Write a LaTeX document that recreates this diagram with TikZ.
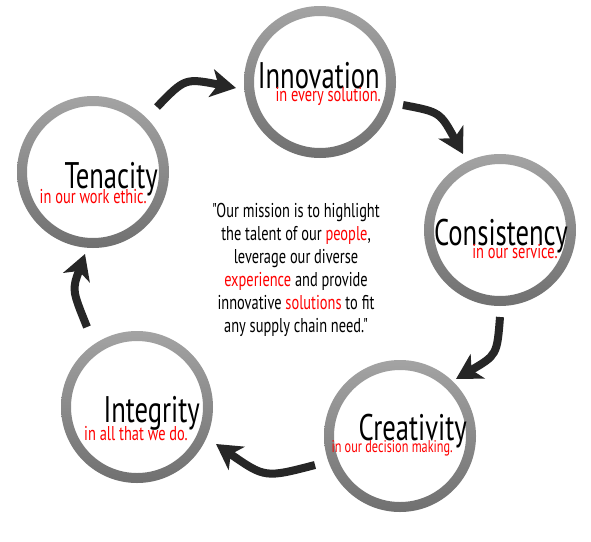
\documentclass[tikz,border=0pt]{standalone}
\usepackage{fontspec}
\setmainfont{PT Sans}
\newfontfamily\narrow[FakeStretch=0.72]{PT Sans}
\usetikzlibrary{arrows.meta}

\begin{document}
\begin{tikzpicture}[x=1pt,y=-1pt,
		ring/.style={circle,minimum size=152pt,inner sep=0pt},
		headline/.style={anchor=base east,inner sep=0pt,font=\narrow\fontsize{37}{37}\selectfont},
		motto/.style={anchor=base east,inner sep=0pt,text=red,font=\narrow\fontsize{20}{20}\selectfont},
		cyclearrow/.style={line width=8pt,color=black!85,-{Stealth[length=25pt,width=28pt,inset=7pt]}}]
			%%%%% START %%%%%
			
			\useasboundingbox[fill=white] (0,0) rectangle (591,541);
			
			\node[ring] (inno) at (320,82) {};
			\node[ring] (cons) at (500,230) {};
			\node[ring] (crea) at (400,436) {};
			\node[ring] (inte) at (137,407) {};
			\node[ring] (tena) at (93,172) {};
			
			\foreach \n in {inno,cons,crea,inte,tena}
				\shade[top color=black!36,bottom color=black!56,even odd rule] (\n) circle (76pt) circle (66pt);
			
			\node[headline] (innot) at (380,88) {Innovation};
			\node[motto] (innom) at (381,101) {in every solution.};
			
			\node[headline] (const) at (568,245) {Consistency};
			\node[motto] (consm) at (558,258) {in our service.};
			
			\node[headline] (creat) at (467,440) {Creativity};
			\node[motto,font=\narrow\fontsize{17}{17}\selectfont] (cream) at (453,452) {in our decision making.};
			
			\node[headline] (intet) at (200,422) {Integrity};
			\node[motto] (intem) at (188,440) {in all that we do.};
			
			\node[headline] (tenat) at (158,188) {Tenacity};
			\node[motto] (tenam) at (147,203) {in our work ethic.};
			
			\node[align=center,inner sep=0pt,font=\narrow\fontsize{20}{23}\selectfont] (mission) at (296,270)
				{"Our mission is to highlight\\
				the talent of our \textcolor{red}{people},\\
				leverage our diverse\\
				\textcolor{red}{experience} and provide\\
				innovative \textcolor{red}{solutions} to fit\\
				any supply chain need."};
			
			\coordinate (a1) at (157,107); \coordinate (b1) at (236,88);
			\coordinate (a2) at (403,105); \coordinate (b2) at (463,154);
			\coordinate (a3) at (500,317); \coordinate (b3) at (456,379);
			\coordinate (a4) at (315,465); \coordinate (b4) at (216,444);
			\coordinate (a5) at (87,327);  \coordinate (b5) at (85,254);
			
			\draw[cyclearrow] (a1) .. controls (185,78) .. (b1);
			\draw[cyclearrow] (a2) .. controls (440,112) .. (b2);
			\draw[cyclearrow] (a3) .. controls (497,355) .. (b3);
			\draw[cyclearrow] (a4) .. controls (265,478) .. (b4);
			\draw[cyclearrow] (a5) .. controls (72,290) .. (b5);
			
			%%%%% END %%%%%
		\end{tikzpicture}
\end{document}
